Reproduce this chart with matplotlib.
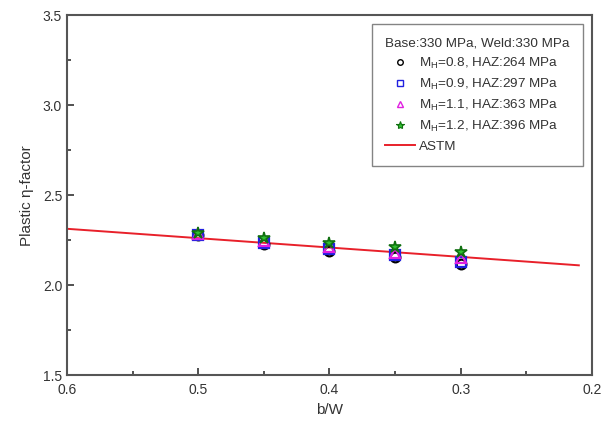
import matplotlib
matplotlib.use("Agg")
import matplotlib.pyplot as plt
from matplotlib.ticker import MultipleLocator
from matplotlib.lines import Line2D

plt.rcParams['font.family'] = ['Liberation Sans', 'DejaVu Sans']
plt.rcParams['mathtext.fontset'] = 'custom'
plt.rcParams['mathtext.rm'] = 'Liberation Sans'
plt.rcParams['mathtext.it'] = 'Liberation Sans:italic'

bw = [0.5, 0.45, 0.4, 0.35, 0.3]
eta_08 = [2.28, 2.23, 2.19, 2.155, 2.12]
eta_09 = [2.28, 2.235, 2.20, 2.165, 2.13]
eta_11 = [2.285, 2.245, 2.21, 2.18, 2.15]
eta_12 = [2.29, 2.26, 2.235, 2.21, 2.185]
astm_bw = [0.6, 0.21]
astm_eta = [2.313, 2.110]

title_label = 'Base:330 MPa, Weld:330 MPa'
labels = [r'M$_\mathrm{H}$=0.8, HAZ:264 MPa',
          r'M$_\mathrm{H}$=0.9, HAZ:297 MPa',
          r'M$_\mathrm{H}$=1.1, HAZ:363 MPa',
          r'M$_\mathrm{H}$=1.2, HAZ:396 MPa',
          'ASTM']

fig = plt.figure(figsize=(6.09, 4.21), dpi=100)
ax = fig.add_axes([0.110, 0.109, 0.862, 0.855])

ax.plot(astm_bw, astm_eta, color='#e8202a', lw=1.4, zorder=2)
ax.plot(bw, eta_08, 'o', ms=7, mfc='none', mec='black', mew=1.6, zorder=3)
ax.plot(bw, eta_09, 's', ms=6.5, mfc='none', mec='#2020e0', mew=1.6, zorder=4)
ax.plot(bw, eta_11, '^', ms=7, mfc='none', mec='#e020e0', mew=1.6, zorder=5)
ax.plot(bw, eta_12, '*', ms=9, mfc='#30c030', mec='#107010', mew=1.2, zorder=6)

ax.set_xlim(0.6, 0.2)
ax.set_ylim(1.5, 3.5)
ax.xaxis.set_minor_locator(MultipleLocator(0.05))
ax.yaxis.set_major_locator(MultipleLocator(0.5))
ax.yaxis.set_minor_locator(MultipleLocator(0.25))
ax.set_xticks([0.6, 0.5, 0.4, 0.3, 0.2])
ax.set_xticklabels(['0.6', '0.5', '0.4', '0.3', '0.2'])
ax.tick_params(which='both', direction='in', top=False, right=False,
               colors='#333333', labelsize=10, labelcolor='#333333', width=1.2)
ax.tick_params(which='major', length=5)
ax.tick_params(which='minor', length=3)
ax.tick_params(axis='x', pad=6)
for s in ax.spines.values():
    s.set_color('#555555')
    s.set_linewidth(1.5)

ax.set_xlabel('b/W', fontsize=11, color='#333333', labelpad=4)
ax.set_ylabel('Plastic η-factor', fontsize=11, color='#333333', labelpad=6)

handles = [Line2D([], [], linestyle='none', marker='o', ms=4, mfc='none', mec='black', mew=1.0),
           Line2D([], [], linestyle='none', marker='s', ms=4, mfc='none', mec='#2020e0', mew=1.0),
           Line2D([], [], linestyle='none', marker='^', ms=4.5, mfc='none', mec='#e020e0', mew=1.0),
           Line2D([], [], linestyle='none', marker='*', ms=6, mfc='#30c030', mec='#107010', mew=0.8),
           Line2D([], [], color='#e8202a', lw=1.4)]
leg = ax.legend(handles, labels, loc='upper right', title=title_label,
                title_fontsize=9.7, alignment='left',
                bbox_to_anchor=(0.983, 0.975), fontsize=9.7, frameon=True,
                fancybox=False, edgecolor='#666666', handlelength=2.2,
                handletextpad=0.3, labelspacing=0.45, borderpad=1.0,
                borderaxespad=0)
leg.get_frame().set_linewidth(1.0)
leg.get_title().set_color('#333333')
for t in leg.get_texts():
    t.set_color('#333333')

fig.savefig('out.png', dpi=100)
